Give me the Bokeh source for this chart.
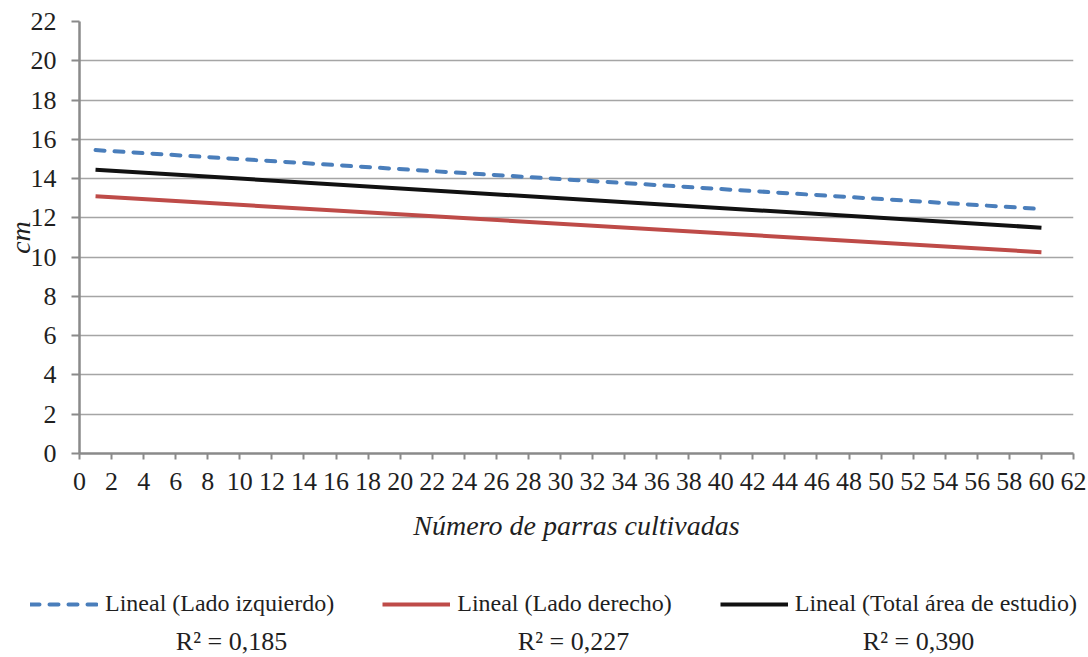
from bokeh.plotting import figure
from bokeh.models import Legend, LegendItem, Label, FixedTicker, Range1d
from bokeh.embed import file_html
from bokeh.resources import INLINE

# Data (trend lines)
x_vals = [1, 60]
izquierdo = [15.45, 12.45]
derecho = [13.1, 10.25]
total = [14.45, 11.5]
x_ticks = list(range(0, 63, 2))
y_ticks = list(range(0, 23, 2))
series_labels = ["Lineal (Lado izquierdo)", "Lineal (Lado derecho)", "Lineal (Total área de estudio)"]
r2_labels = ["R² = 0,185", "R² = 0,227", "R² = 0,390"]
colors = ["#4A7EBB", "#BE4B48", "#111111"]
dashes = ["9 10", "solid", "solid"]

FONT = "'Liberation Serif', 'Times New Roman', serif"
TXT = "#1f1f1f"
W = 1088

# Main chart
p = figure(width=W, height=570, output_backend="svg", toolbar_location=None,
           x_range=Range1d(0, 62), y_range=Range1d(0, 22),
           min_border_left=79, min_border_right=15, min_border_top=21, min_border_bottom=117)
p.outline_line_color = None

series = [izquierdo, derecho, total]
for ys, c, d in zip(series, colors, dashes):
    p.line(x_vals, ys, line_color=c, line_width=4, line_dash=d,
           line_cap="round" if d != "solid" else "butt")

for ax in (p.xaxis[0], p.yaxis[0]):
    ax.axis_line_color = "#8a8a8a"
    ax.axis_line_width = 2.5
    ax.major_tick_line_color = "#8a8a8a"
    ax.major_tick_line_width = 2
    ax.major_tick_in = 0
    ax.minor_tick_line_color = None
    ax.major_label_text_font = FONT
    ax.major_label_text_font_size = "26px"
    ax.major_label_text_color = TXT
    ax.axis_label_text_font = FONT
    ax.axis_label_text_font_size = "28px"
    ax.axis_label_text_font_style = "italic"
    ax.axis_label_text_color = TXT

p.xaxis.major_tick_out = 6
p.yaxis.major_tick_out = 8
p.xaxis.ticker = FixedTicker(ticks=x_ticks)
p.yaxis.ticker = FixedTicker(ticks=y_ticks)
p.xaxis.major_label_standoff = 13
p.yaxis.major_label_standoff = 15
p.xaxis.axis_label = "Número de parras cultivadas"
p.xaxis.axis_label_standoff = 17
p.yaxis.axis_label = "cm"
p.yaxis.axis_label_standoff = -8

p.xgrid.grid_line_color = None
p.ygrid.grid_line_color = "#a5a5a5"
p.ygrid.grid_line_width = 1.5
p.ygrid.ticker = FixedTicker(ticks=y_ticks)

# Legend strip below the chart (separate root, full-width frame)
q = figure(width=W, height=87, output_backend="svg", toolbar_location=None,
           x_range=Range1d(1000, 2000), y_range=Range1d(1000, 2000),
           x_axis_location=None, y_axis_location=None,
           min_border_left=0, min_border_right=0, min_border_top=0, min_border_bottom=0)
q.outline_line_color = None
q.grid.visible = False
keys = []
for ys, c, d in zip(series, colors, dashes):
    keys.append(q.line(x_vals, ys, line_color=c, line_width=4, line_dash=d,
                       line_cap="round" if d != "solid" else "butt"))

legend = Legend(items=[LegendItem(label=l, renderers=[r]) for l, r in zip(series_labels, keys)],
                orientation="horizontal", location=(30, 40),
                glyph_width=68, glyph_height=24, label_standoff=7, spacing=48,
                padding=0, margin=0, border_line_color=None, background_fill_alpha=0,
                label_text_font=FONT, label_text_font_size="24px", label_text_color=TXT)
q.add_layout(legend, "center")

for lx, txt in zip([231, 573, 918], r2_labels):
    q.add_layout(Label(x=lx, y=16, x_units="screen", y_units="screen", text=txt,
                       text_align="center", text_baseline="middle",
                       text_font=FONT, text_font_size="26px", text_color=TXT))

open("out.html", "w").write(file_html([p, q], INLINE))
